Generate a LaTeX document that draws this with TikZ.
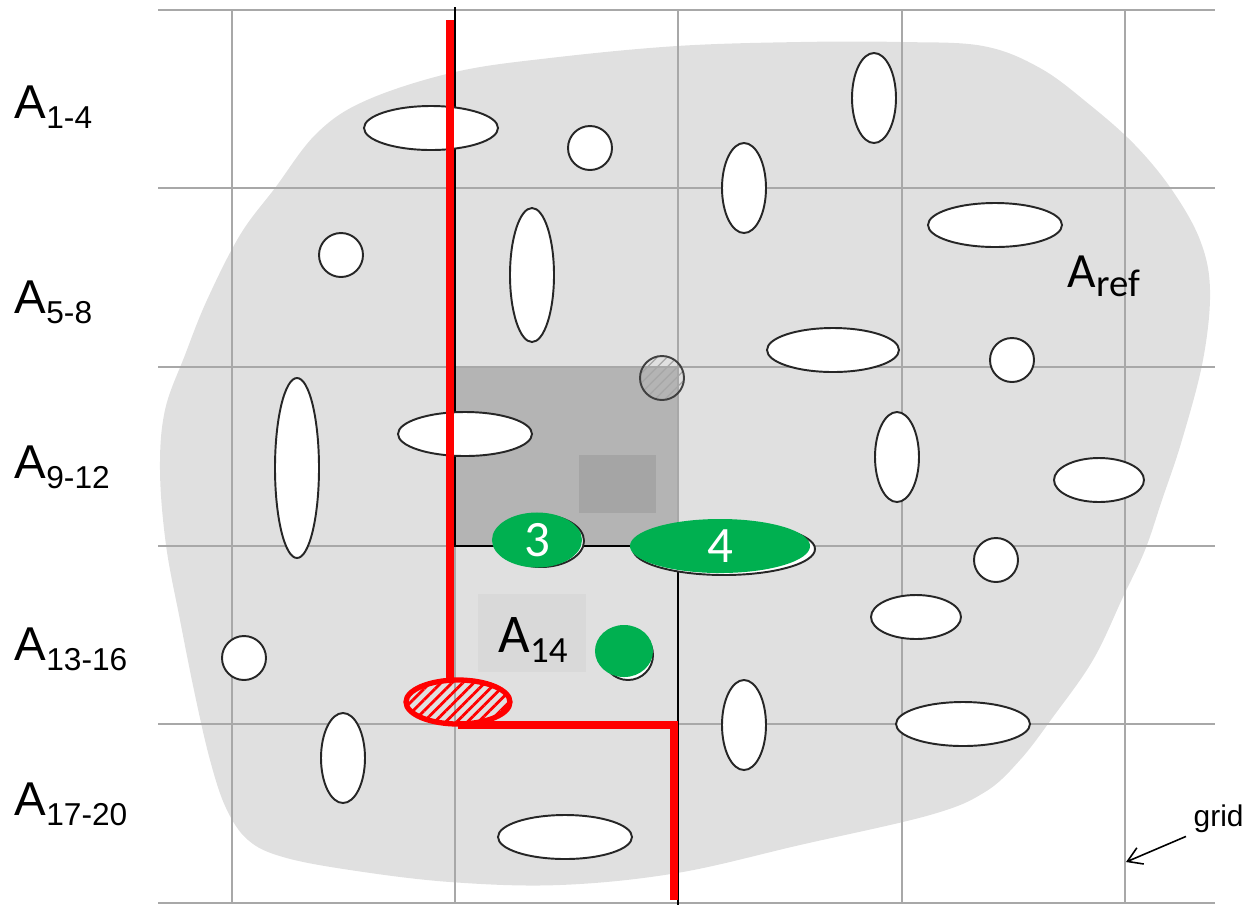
\documentclass[tikz,border=0pt]{standalone}
\usepackage{fontspec}
\setmainfont{Liberation Sans}
\newfontfamily\calfont{Carlito}
\usetikzlibrary{shapes.geometric, arrows.meta, patterns.meta}
\definecolor{blobgray}{RGB}{224,224,224}
\definecolor{gridgray}{RGB}{168,168,168}
\definecolor{cellgray}{RGB}{180,180,180}
\definecolor{coregray}{RGB}{165,165,165}
\definecolor{tagbox}{RGB}{217,217,217}
\definecolor{poregreen}{RGB}{0,176,80}
\newcommand{\rowlbl}[2]{#1\raisebox{-3pt}{\fontsize{9}{10}\selectfont #2}}

\begin{document}
\begin{tikzpicture}[x=0.01cm, y=-0.01cm,
    hole/.style={draw=black!85, line width=0.55pt, fill=white},
    gridline/.style={draw=gridgray, line width=0.6pt},
    redpath/.style={draw=red, line width=2.1pt},
    greenpore/.style={ellipse, fill=poregreen, text=white, inner sep=0pt,
        font=\calfont\fontsize{14.5}{16}\selectfont},
    rowtag/.style={anchor=base west, inner sep=0pt, font=\fontsize{13.5}{15}\selectfont},
    >={Straight Barb[length=4pt, width=5pt]}
]
    \useasboundingbox (0,0) rectangle (1251,905);

    % reference area
    \fill[blobgray] plot[smooth cycle, tension=0.6] coordinates {
        (160,470) (165,410) (185,355) (207,300) (240,235) (275,188) (317,133)
        (367,100) (455,72) (550,58) (677,46) (800,42) (901,42) (983,46)
        (1040,68) (1090,105) (1135,145) (1172,190) (1200,240) (1210,290)
        (1203,360) (1182,440) (1162,500) (1145,550) (1123,597) (1093,660)
        (1053,717) (1020,760) (985,792) (930,815) (800,845) (677,873)
        (560,885) (450,882) (350,870) (283,857) (248,840) (226,808)
        (210,760) (195,695) (180,620) (166,545)};

    % cell A9-12 / core
    \fill[cellgray] (455,367) rectangle (678,546);
    \fill[coregray] (579,455) rectangle (656,513);

    % grid
    \foreach \gy in {10,188,367,546,724,903}
        \draw[gridline] (158,\gy) -- (1215,\gy);
    \foreach \gx in {232,455,678,902,1125}
        \draw[gridline] (\gx,10) -- (\gx,903);

    % black boundary
    \draw[line width=0.8pt] (455,7) -- (455,546) -- (678,546) -- (678,905);

    % pores
    \draw[hole] (431,128) ellipse [x radius=67, y radius=22];
    \draw[hole] (590,148) circle [radius=22];
    \draw[hole] (874,98) ellipse [x radius=22, y radius=45];
    \draw[hole] (744,188) ellipse [x radius=22, y radius=45];
    \draw[hole] (995,225) ellipse [x radius=67, y radius=22];
    \draw[hole] (341,255) circle [radius=22];
    \draw[hole] (532,275) ellipse [x radius=22, y radius=67];
    \draw[hole] (833,350) ellipse [x radius=66, y radius=22];
    \draw[hole] (1012,360) circle [radius=22];
    \draw[hole] (297,468) ellipse [x radius=22, y radius=90];
    \draw[hole] (465,434) ellipse [x radius=67, y radius=22];
    \draw[hole] (897,457) ellipse [x radius=22, y radius=45];
    \draw[hole] (1099,480) ellipse [x radius=45, y radius=22];
    \draw[hole] (996,560) circle [radius=22];
    \draw[hole] (916,617) ellipse [x radius=45, y radius=22];
    \draw[hole] (244,658) circle [radius=22];
    \draw[hole] (343,758) ellipse [x radius=22, y radius=45];
    \draw[hole] (565,837) ellipse [x radius=67, y radius=22];
    \draw[hole] (744,725) ellipse [x radius=22, y radius=45];
    \draw[hole] (963,724) ellipse [x radius=67, y radius=22];
    \draw[hole, draw=black!75, fill=gray!30,
        pattern={Lines[angle=45, distance=2pt, line width=0.35pt]}, pattern color=gray!70]
        (662,378) circle [radius=22];

    % pores under the green ones
    \draw[hole] (541,541) ellipse [x radius=43, y radius=26];
    \draw[hole] (724,549) ellipse [x radius=91, y radius=26];
    \draw[hole] (628,655) circle [radius=25];

    % green pores
    \node[greenpore, minimum width=0.9cm, minimum height=0.55cm] (p3) at (537,540) {3};
    \node[greenpore, minimum width=1.8cm, minimum height=0.54cm] (p4) at (720,546) {4};
    \node[greenpore, minimum width=0.58cm, minimum height=0.52cm] (p5) at (624,651) {};

    % red path
    \draw[redpath] (450,20) -- (450,680);
    \draw[redpath] (458,725) -- (674,725) -- (674,900);
    \draw[draw=red, line width=1.5pt, fill=white,
        pattern={Lines[angle=45, distance=2.2pt, line width=0.8pt]}, pattern color=red]
        (458,702) ellipse [x radius=52, y radius=22];

    % labels
    \node[rowtag] (r1) at (14,118) {\rowlbl{A}{1-4}};
    \node[rowtag] (r2) at (14,313) {\rowlbl{A}{5-8}};
    \node[rowtag] (r3) at (14,478) {\rowlbl{A}{9-12}};
    \node[rowtag] (r4) at (14,660) {\rowlbl{A}{13-16}};
    \node[rowtag] (r5) at (14,815) {\rowlbl{A}{17-20}};

    \node[anchor=base west, inner sep=0pt, font=\calfont\fontsize{14}{16}\selectfont]
        (aref) at (1067,287) {A\raisebox{-2.8pt}{\fontsize{11}{13}\selectfont ref}};

    \node[fill=tagbox, minimum width=1.07cm, minimum height=0.78cm, inner sep=0pt]
        (a14box) at (532,633) {};
    \node[anchor=base, inner sep=0pt, font=\calfont\fontsize{15.5}{17}\selectfont]
        (a14) at (533,652) {A\raisebox{-3pt}{\fontsize{10.5}{12}\selectfont 14}};

    \node[anchor=base west, inner sep=0pt, font=\fontsize{8.5}{10}\selectfont]
        (gridlbl) at (1193,826) {grid};
    \coordinate (gridtip) at (1126,862);
    \draw[->, line width=0.45pt] ([xshift=-2pt, yshift=-1pt]gridlbl.south west) -- (gridtip);
\end{tikzpicture}
\end{document}
